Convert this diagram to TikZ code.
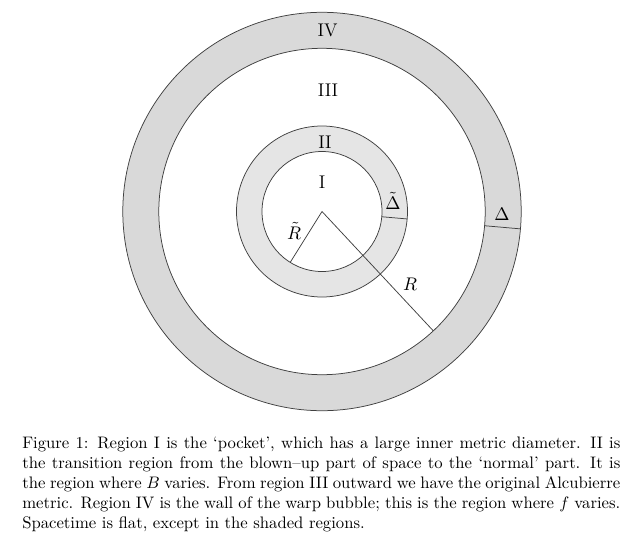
\documentclass[tikz,border=0pt]{standalone}
\usetikzlibrary{calc}
\begin{document}
\begin{tikzpicture}[x=0.6pt,y=-0.6pt,
  ring/.style={draw=black!75,line width=0.45pt,even odd rule},
  radial/.style={draw=black!75,line width=0.45pt},
  lbl/.style={inner sep=0pt,font=\fontsize{11}{13}\selectfont},
  caption/.style={inner sep=0pt,anchor=north west,text width=358.8pt,align=justify,font=\fontsize{10}{12}\selectfont}]
\useasboundingbox (0,0) rectangle (639,555);
\coordinate (O) at (322,211.5);
% ring IV
\path[ring,fill=black!15] (O) circle[radius=199.2] (O) circle[radius=163.2];
% ring II
\path[ring,fill=black!10] (O) circle[radius=85.5] (O) circle[radius=60];
% radial lines
\coordinate (Rtend) at ($(O)+(122:60)$);
\coordinate (Rend) at ($(O)+(47:163.2)$);
\coordinate (Dta) at ($(O)+(5:60)$);
\coordinate (Dtb) at ($(O)+(5:85.5)$);
\coordinate (Da) at ($(O)+(5:163.2)$);
\coordinate (Db) at ($(O)+(5:199.2)$);
\draw[radial] (O) -- (Rtend);
\draw[radial] (O) -- (Rend);
\draw[radial] (Dta) -- (Dtb);
\draw[radial] (Da) -- (Db);
% labels
\node[lbl] (l1) at (322,182) {I};
\node[lbl] (l2) at (325,142) {II};
\node[lbl] (l3) at (328,90) {III};
\node[lbl] (l4) at (327.5,30) {IV};
\node[lbl] (lRt) at (294,231) {$\tilde R$};
\node[lbl] (lR) at (410,284) {$R$};
\node[lbl] (lDt) at (393,201) {$\tilde\Delta$};
\node[lbl] (lD) at (502,214) {$\Delta$};
% caption
\node[caption] (cap) at (22,437) {Figure 1: Region I is the ‘pocket’, which has a large inner metric diameter. II is\linebreak
the transition region from the blown–up part of space to the ‘normal’ part. It is\linebreak
the region where $B$ varies. From region III outward we have the original Alcubierre\linebreak
metric. Region IV is the wall of the warp bubble; this is the region where $f$ varies.\linebreak
Spacetime is flat, except in the shaded regions.};
\end{tikzpicture}
\end{document}
